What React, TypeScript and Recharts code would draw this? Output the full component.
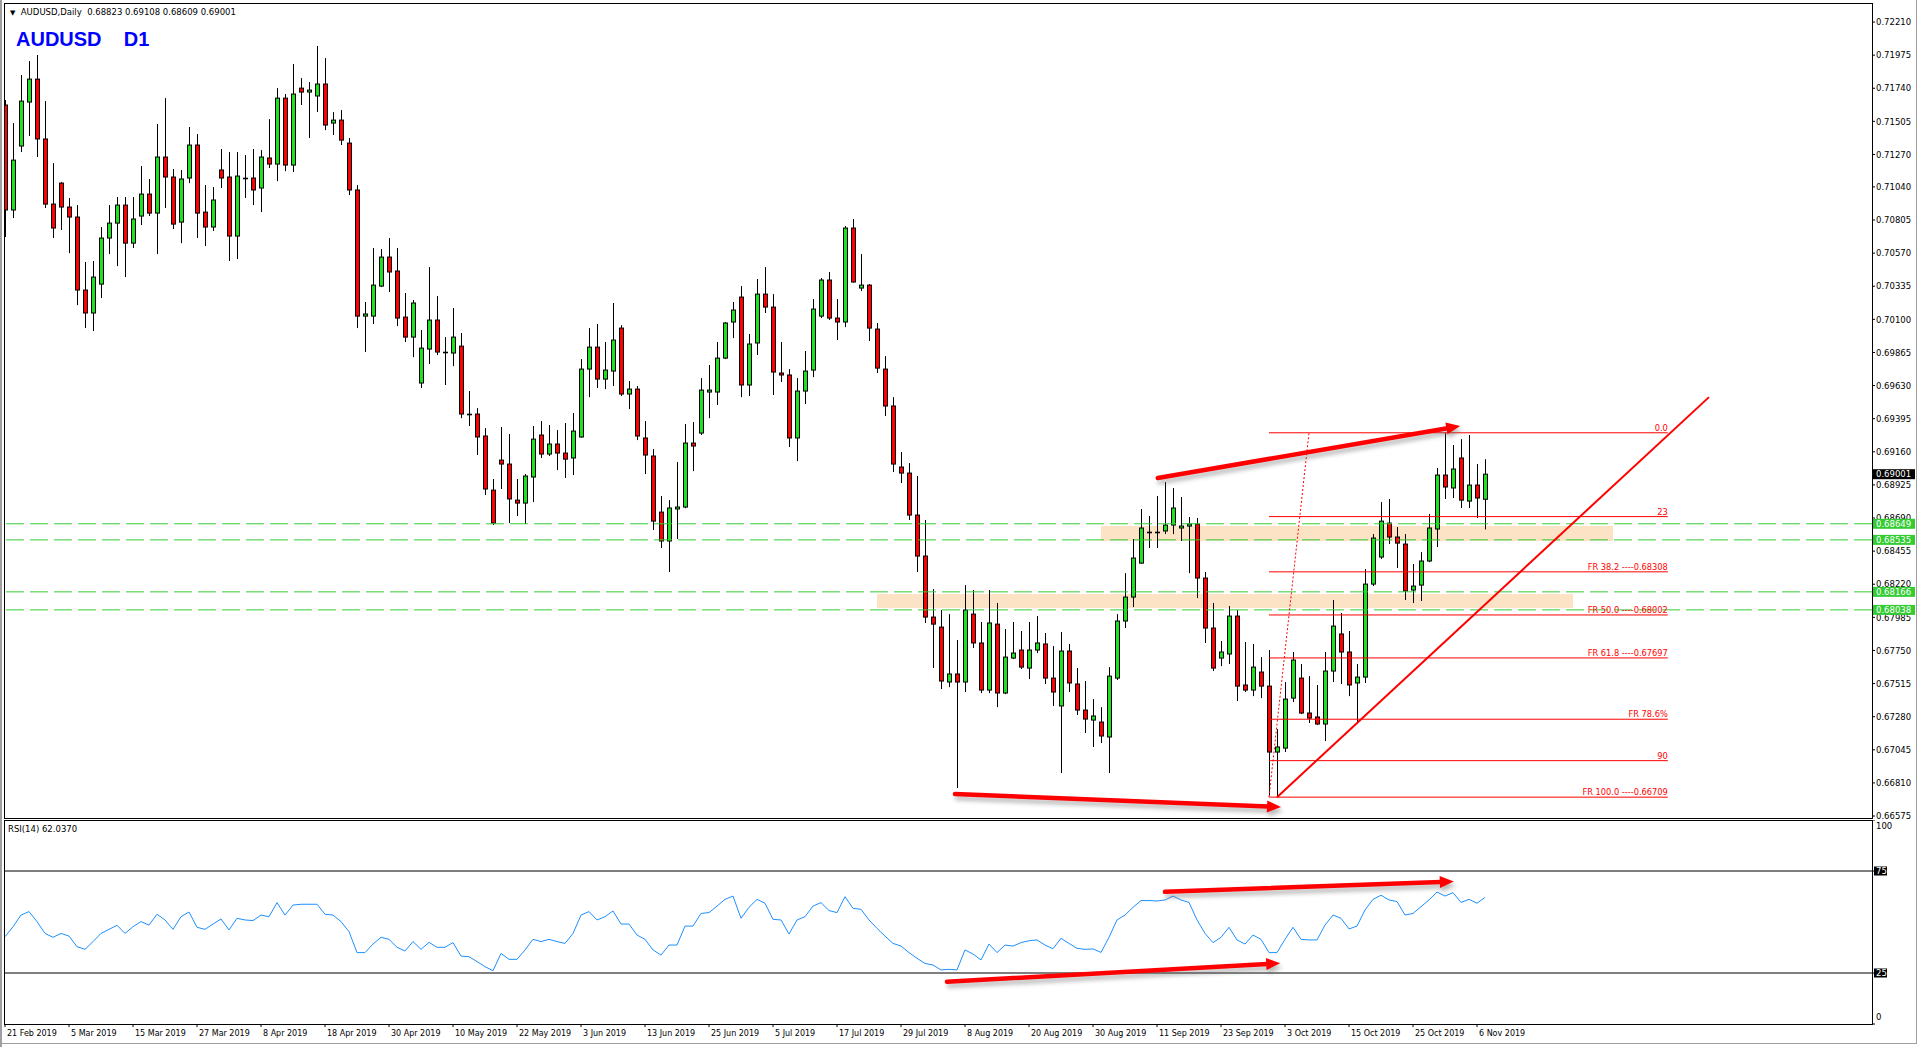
import React from 'react';
import { ComposedChart, Bar, Line, XAxis, YAxis, ReferenceLine, ReferenceArea } from 'recharts';

// ---------- DATA ----------
const OPEN = [
  0.71621, 0.70876, 0.71330, 0.71642, 0.71805, 0.71380, 0.70918, 0.71067, 0.70897, 0.70826,
  0.70308, 0.70145, 0.70350, 0.70677, 0.70783, 0.70911, 0.70641, 0.70833, 0.70989, 0.70854,
  0.71252, 0.71110, 0.70790, 0.71103, 0.71337, 0.70861, 0.70755, 0.71160, 0.71110, 0.70691,
  0.71103, 0.71103, 0.71032, 0.71245, 0.71202, 0.71670, 0.71195, 0.71741, 0.71713, 0.71685,
  0.71770, 0.71493, 0.71514, 0.71351, 0.71018, 0.70123, 0.70123, 0.70336, 0.70542, 0.70443,
  0.70116, 0.69974, 0.69648, 0.69889, 0.70095, 0.69868, 0.69861, 0.69910, 0.69428, 0.69428,
  0.69272, 0.68888, 0.69101, 0.69073, 0.68817, 0.68796, 0.68981, 0.69279, 0.69144, 0.69215,
  0.69151, 0.69116, 0.69265, 0.69747, 0.69903, 0.69676, 0.69733, 0.70038, 0.69570, 0.69605,
  0.69258, 0.69130, 0.68732, 0.68527, 0.68754, 0.68768, 0.69222, 0.69293, 0.69584, 0.69584,
  0.69825, 0.70081, 0.70258, 0.69634, 0.69932, 0.70279, 0.70187, 0.69719, 0.69705, 0.69258,
  0.69591, 0.69740, 0.70123, 0.70379, 0.70109, 0.70081, 0.70748, 0.70322, 0.70343, 0.70031,
  0.69747, 0.69485, 0.69052, 0.69009, 0.68711, 0.68420, 0.67987, 0.67916, 0.67526, 0.67583,
  0.67526, 0.68008, 0.67803, 0.67469, 0.67937, 0.67448, 0.67696, 0.67753, 0.67625, 0.67753,
  0.67796, 0.67554, 0.67356, 0.67746, 0.67512, 0.67327, 0.67256, 0.67242, 0.67136, 0.67554,
  0.67959, 0.68129, 0.68370, 0.68590, 0.68590, 0.68598, 0.68640, 0.68619, 0.68633, 0.68647,
  0.68264, 0.67909, 0.67696, 0.67725, 0.67994, 0.67505, 0.67469, 0.67597, 0.67497, 0.67029,
  0.67057, 0.67412, 0.67554, 0.67306, 0.67278, 0.67228, 0.67604, 0.67867, 0.67739, 0.67519,
  0.67561, 0.68221, 0.68413, 0.68654, 0.68555, 0.68505, 0.68179, 0.68214, 0.68385, 0.68612,
  0.68995, 0.68903, 0.69116, 0.68810, 0.68924, 0.68823,
];
const HIGH = [
  0.71656, 0.71493, 0.71834, 0.71933, 0.71976, 0.71649, 0.71209, 0.71074, 0.70961, 0.70911,
  0.70507, 0.70514, 0.70755, 0.70911, 0.70968, 0.70968, 0.70968, 0.71188, 0.71096, 0.71486,
  0.71670, 0.71167, 0.71160, 0.71465, 0.71415, 0.71053, 0.71039, 0.71309, 0.71287, 0.71287,
  0.71266, 0.71309, 0.71301, 0.71521, 0.71741, 0.71699, 0.71912, 0.71812, 0.71784, 0.72040,
  0.71954, 0.71571, 0.71585, 0.71387, 0.71053, 0.70223, 0.70606, 0.70599, 0.70677, 0.70606,
  0.70287, 0.70237, 0.70024, 0.70471, 0.70265, 0.69974, 0.70180, 0.70003, 0.69591, 0.69470,
  0.69328, 0.68967, 0.69336, 0.69286, 0.68967, 0.69002, 0.69343, 0.69378, 0.69350, 0.69314,
  0.69364, 0.69435, 0.69818, 0.70038, 0.70067, 0.69939, 0.70216, 0.70059, 0.69662, 0.69627,
  0.69378, 0.69179, 0.68846, 0.68817, 0.69087, 0.69357, 0.69371, 0.69683, 0.69776, 0.69939,
  0.70081, 0.70223, 0.70336, 0.69996, 0.70386, 0.70471, 0.70279, 0.69939, 0.69747, 0.69683,
  0.69875, 0.70244, 0.70393, 0.70436, 0.70244, 0.70762, 0.70812, 0.70563, 0.70350, 0.70074,
  0.69839, 0.69548, 0.69158, 0.69080, 0.68988, 0.68676, 0.68186, 0.68037, 0.68008, 0.67824,
  0.68214, 0.68179, 0.67952, 0.68179, 0.68087, 0.67902, 0.67952, 0.67888, 0.67952, 0.67994,
  0.67874, 0.67781, 0.67881, 0.67796, 0.67625, 0.67533, 0.67405, 0.67348, 0.67632, 0.68008,
  0.68299, 0.68541, 0.68754, 0.68704, 0.68846, 0.68945, 0.68903, 0.68839, 0.68697, 0.68690,
  0.68307, 0.68087, 0.67817, 0.68065, 0.68037, 0.67810, 0.67796, 0.67703, 0.67753, 0.67192,
  0.67526, 0.67739, 0.67654, 0.67568, 0.67505, 0.67739, 0.68108, 0.68016, 0.67888, 0.67654,
  0.68328, 0.68576, 0.68803, 0.68825, 0.68626, 0.68576, 0.68363, 0.68448, 0.68718, 0.69045,
  0.69295, 0.69208, 0.69250, 0.69279, 0.69073, 0.69108,
];
const LOW = [
  0.70684, 0.70819, 0.71287, 0.71401, 0.71252, 0.70890, 0.70677, 0.70734, 0.70570, 0.70201,
  0.70038, 0.70017, 0.70251, 0.70563, 0.70478, 0.70400, 0.70606, 0.70769, 0.70833, 0.70563,
  0.70890, 0.70741, 0.70641, 0.71067, 0.70677, 0.70620, 0.70727, 0.71032, 0.70514, 0.70528,
  0.70961, 0.70911, 0.70861, 0.71174, 0.71081, 0.71152, 0.71145, 0.71621, 0.71387, 0.71571,
  0.71443, 0.71408, 0.71337, 0.70982, 0.70038, 0.69868, 0.70067, 0.70329, 0.70294, 0.70052,
  0.69939, 0.69832, 0.69612, 0.69783, 0.69847, 0.69634, 0.69768, 0.69399, 0.69343, 0.69137,
  0.68853, 0.68640, 0.68896, 0.68654, 0.68704, 0.68647, 0.68803, 0.69116, 0.69130, 0.69030,
  0.68974, 0.68995, 0.69260, 0.69548, 0.69612, 0.69605, 0.69627, 0.69556, 0.69463, 0.69243,
  0.69002, 0.68605, 0.68477, 0.68307, 0.68541, 0.68760, 0.69023, 0.69279, 0.69399, 0.69492,
  0.69818, 0.69967, 0.69548, 0.69556, 0.69847, 0.70145, 0.69563, 0.69655, 0.69194, 0.69094,
  0.69499, 0.69690, 0.70109, 0.70095, 0.69953, 0.70045, 0.70360, 0.70301, 0.69946, 0.69719,
  0.69414, 0.69016, 0.68938, 0.68676, 0.68307, 0.67945, 0.67625, 0.67476, 0.67490, 0.66774,
  0.67455, 0.67767, 0.67448, 0.67448, 0.67348, 0.67440, 0.67689, 0.67618, 0.67547, 0.67732,
  0.67512, 0.67356, 0.66880, 0.67455, 0.67292, 0.67164, 0.67065, 0.67093, 0.66880, 0.67540,
  0.67909, 0.68058, 0.68365, 0.68477, 0.68477, 0.68576, 0.68576, 0.68527, 0.68299, 0.68122,
  0.67803, 0.67604, 0.67639, 0.67654, 0.67391, 0.67455, 0.67426, 0.67412, 0.66720, 0.66709,
  0.67029, 0.67384, 0.67299, 0.67235, 0.67222, 0.67107, 0.67526, 0.67512, 0.67426, 0.67235,
  0.67519, 0.68207, 0.68399, 0.68505, 0.68335, 0.68108, 0.68087, 0.68101, 0.68377, 0.68484,
  0.68825, 0.68832, 0.68761, 0.68761, 0.68690, 0.68609,
];
const CLOSE = [
  0.70876, 0.71230, 0.71649, 0.71805, 0.71380, 0.70918, 0.70748, 0.70897, 0.70826, 0.70308,
  0.70145, 0.70400, 0.70677, 0.70783, 0.70911, 0.70641, 0.70812, 0.70989, 0.70854, 0.71252,
  0.71110, 0.70776, 0.71096, 0.71337, 0.70854, 0.70755, 0.70947, 0.71103, 0.70691, 0.71117,
  0.71103, 0.71018, 0.71252, 0.71202, 0.71670, 0.71195, 0.71699, 0.71713, 0.71727, 0.71770,
  0.71479, 0.71514, 0.71372, 0.71018, 0.70123, 0.70138, 0.70343, 0.70542, 0.70436, 0.70109,
  0.69974, 0.70216, 0.69896, 0.70095, 0.69868, 0.69868, 0.69974, 0.69428, 0.69428, 0.69265,
  0.68896, 0.68654, 0.69073, 0.68825, 0.68796, 0.68988, 0.69250, 0.69144, 0.69215, 0.69151,
  0.69108, 0.69307, 0.69747, 0.69903, 0.69676, 0.69740, 0.69953, 0.69570, 0.69605, 0.69272,
  0.69137, 0.68668, 0.68527, 0.68761, 0.68768, 0.69222, 0.69201, 0.69598, 0.69598, 0.69825,
  0.70074, 0.70166, 0.69634, 0.69925, 0.70279, 0.70187, 0.69726, 0.69705, 0.69258, 0.69591,
  0.69733, 0.70173, 0.70379, 0.70109, 0.70081, 0.70748, 0.70365, 0.70343, 0.70038, 0.69754,
  0.69485, 0.69073, 0.69009, 0.68711, 0.68420, 0.67987, 0.67937, 0.67533, 0.67583, 0.67526,
  0.68037, 0.67803, 0.67469, 0.67945, 0.67448, 0.67703, 0.67732, 0.67632, 0.67753, 0.67803,
  0.67554, 0.67455, 0.67746, 0.67519, 0.67327, 0.67263, 0.67285, 0.67143, 0.67568, 0.67959,
  0.68129, 0.68406, 0.68619, 0.68590, 0.68590, 0.68640, 0.68761, 0.68633, 0.68647, 0.68264,
  0.67909, 0.67625, 0.67739, 0.67994, 0.67497, 0.67469, 0.67632, 0.67497, 0.67029, 0.67065,
  0.67405, 0.67682, 0.67306, 0.67270, 0.67228, 0.67604, 0.67923, 0.67739, 0.67505, 0.67561,
  0.68221, 0.68548, 0.68668, 0.68555, 0.68512, 0.68172, 0.68207, 0.68385, 0.68619, 0.68995,
  0.68910, 0.69038, 0.68817, 0.68924, 0.68832, 0.69001,
];
const RSI = [
  42.8, 47.7, 53.4, 55.1, 50.2, 44.4, 42.5, 44.4, 43.1, 37.9,
  36.6, 40.4, 44.4, 46.4, 48.4, 44.4, 47.7, 50.2, 48.5, 53.8,
  51.0, 46.4, 52.6, 54.9, 47.4, 46.4, 49.0, 51.5, 46.1, 51.8,
  51.0, 50.7, 53.4, 52.6, 59.5, 53.4, 58.3, 58.7, 58.7, 58.7,
  53.8, 53.4, 50.2, 45.3, 35.0, 35.0, 39.2, 42.5, 41.5, 37.6,
  35.8, 40.4, 36.6, 40.0, 37.6, 37.6, 39.9, 33.3, 33.0, 30.6,
  28.1, 26.1, 34.6, 31.7, 31.7, 36.3, 41.5, 40.4, 41.5, 40.4,
  39.5, 44.4, 53.4, 55.1, 51.0, 52.6, 55.4, 49.0, 49.0, 43.6,
  41.5, 36.3, 33.8, 38.7, 38.7, 48.0, 48.0, 54.2, 54.6, 57.8,
  61.1, 62.7, 51.8, 57.2, 61.1, 59.2, 51.3, 51.0, 44.1, 51.0,
  52.6, 57.8, 59.5, 55.6, 54.6, 62.4, 56.7, 56.2, 51.0, 46.9,
  43.1, 39.5, 38.2, 35.0, 32.2, 29.7, 28.9, 26.5, 26.8, 26.5,
  36.3, 34.3, 31.4, 39.2, 35.0, 38.7, 38.2, 39.9, 40.8, 41.2,
  38.7, 36.9, 42.0, 39.5, 37.1, 36.6, 36.8, 35.1, 42.5, 51.0,
  53.4, 57.2, 60.5, 60.5, 60.3, 60.8, 62.7, 60.8, 59.6, 51.0,
  44.4, 39.9, 42.5, 47.4, 41.2, 39.2, 43.6, 41.5, 35.0, 35.0,
  41.5, 47.4, 41.5, 41.2, 41.2, 48.5, 53.4, 51.8, 46.6, 48.0,
  55.9, 61.1, 63.1, 60.8, 60.0, 53.4, 54.2, 57.5, 60.8, 64.7,
  62.7, 64.4, 59.6, 61.1, 59.2, 62.04,
];

const X_TICKS = [0, 8, 16, 24, 32, 40, 48, 56, 64, 72, 80, 88, 96, 104, 112, 120, 128, 136, 144, 152, 160, 168, 176, 184];
const X_TICK_LABELS = [
  '21 Feb 2019', '5 Mar 2019', '15 Mar 2019', '27 Mar 2019', '8 Apr 2019', '18 Apr 2019',
  '30 Apr 2019', '10 May 2019', '22 May 2019', '3 Jun 2019', '13 Jun 2019', '25 Jun 2019',
  '5 Jul 2019', '17 Jul 2019', '29 Jul 2019', '8 Aug 2019', '20 Aug 2019', '30 Aug 2019',
  '11 Sep 2019', '23 Sep 2019', '3 Oct 2019', '15 Oct 2019', '25 Oct 2019', '6 Nov 2019',
];
const PRICE_TICKS = [
  0.72210, 0.71975, 0.71740, 0.71505, 0.71270, 0.71040, 0.70805, 0.70570, 0.70335, 0.70100,
  0.69865, 0.69630, 0.69395, 0.69160, 0.68925, 0.68690, 0.68455, 0.68220, 0.67985, 0.67750,
  0.67515, 0.67280, 0.67045, 0.66810, 0.66575,
];
const SUPPORT_LEVELS = [0.68649, 0.68535, 0.68166, 0.68038];
const BID = 0.69001;
const RSI_TICKS = [100, 75, 25, 0];
const RSI_LEVELS = [75, 25];

const ZONES = [
  { x1: 137, x2: 201, y1: 0.68527, y2: 0.68633 },
  { x1: 109, x2: 196, y1: 0.68051, y2: 0.68150 },
];
const FIB_START = 158;
const FIB_END = 207.85;
const FIB_LEVELS = [
  { label: '0.0', value: 0.69295 },
  { label: '23', value: 0.68700 },
  { label: 'FR 38.2 ----0.68308', value: 0.68308 },
  { label: 'FR 50.0 ----0.68002', value: 0.68002 },
  { label: 'FR 61.8 ----0.67697', value: 0.67697 },
  { label: 'FR 78.6%', value: 0.67262 },
  { label: '90', value: 0.66968 },
  { label: 'FR 100.0 ----0.66709', value: 0.66709 },
];
const FIB_ANCHOR = [{ x: 158, y: 0.66709 }, { x: 163, y: 0.69295 }];
const TRENDLINE = [{ x: 159, y: 0.66709 }, { x: 213, y: 0.69548 }];
const PRICE_ARROWS = [
  [{ x: 144.1, y: 0.68974 }, { x: 181.9, y: 0.69343 }],
  [{ x: 118.75, y: 0.66731 }, { x: 159.5, y: 0.66639 }],
];
const RSI_ARROWS = [
  [{ x: 145, y: 64.8 }, { x: 181.1, y: 69.8 }],
  [{ x: 117.75, y: 20.7 }, { x: 159.4, y: 29.75 }],
];

const X_DOMAIN = [0, 233.375];
const PRICE_DOMAIN = [0.66561, 0.72338];

const DATA = OPEN.map((o, i) => ({
  i,
  o,
  h: HIGH[i],
  l: LOW[i],
  c: CLOSE[i],
  range: [LOW[i], HIGH[i]],
  rsi: RSI[i],
}));

const GREEN = '#1ee01e';
const RED = '#ff0000';
const LEVEL_GREEN = '#33cc33';
const FONT = '"DejaVu Sans", Verdana, sans-serif';

// ---------- shapes ----------
function Candle(props: any) {
  const { x, y, width, height, index } = props;
  const d = props.payload && props.payload.o !== undefined ? props.payload : DATA[index];
  if (!d || y == null || height == null || x == null) return null;
  const yTop = Math.min(y, y + height);
  const hgt = Math.abs(height);
  const span = d.h - d.l;
  const ratio = span > 0 ? hgt / span : 0;
  const py = (v: number) => yTop + (d.h - v) * ratio;
  const cx = Math.round(x + width / 2 + 0.25);
  const top = py(Math.max(d.o, d.c));
  const bot = py(Math.min(d.o, d.c));
  const wx = cx + 0.5;
  return (
    <g>
      <line x1={wx} x2={wx} y1={yTop} y2={yTop + hgt} stroke="#000" strokeWidth={1} />
      {d.o === d.c ? (
        <line x1={cx - 2} x2={cx + 3} y1={Math.round(top) + 0.5} y2={Math.round(top) + 0.5} stroke="#000" strokeWidth={1.6} />
      ) : (
        <rect x={cx - 1.5} y={top} width={4} height={Math.max(bot - top, 1)} fill={d.c > d.o ? GREEN : RED} stroke="#000" strokeWidth={1} />
      )}
    </g>
  );
}

let arrowId = 0;
function makeArrow() {
  const id = `ashadow${arrowId++}`;
  return (p: any) => {
    const { x1, y1, x2, y2 } = p;
    if ([x1, y1, x2, y2].some((v) => v == null || isNaN(v))) return null;
    const ang = Math.atan2(y2 - y1, x2 - x1);
    const cos = Math.cos(ang);
    const sin = Math.sin(ang);
    const len = 14;
    const hw = 6;
    const bx = x2 - len * cos;
    const by = y2 - len * sin;
    const head = `${x2},${y2} ${bx - hw * sin},${by + hw * cos} ${bx + hw * sin},${by - hw * cos}`;
    const body = (fill: string) => (
      <g>
        <line x1={x1} y1={y1} x2={bx + cos} y2={by + sin} stroke={fill} strokeWidth={4.5} strokeLinecap="round" />
        <polygon points={head} fill={fill} />
      </g>
    );
    return (
      <g>
        <defs>
          <filter id={id} x="-20%" y="-200%" width="140%" height="500%">
            <feGaussianBlur stdDeviation="2" />
          </filter>
        </defs>
        <g transform="translate(2,4)" filter={`url(#${id})`} opacity={0.45}>
          {body('#666')}
        </g>
        {body('#ff0000')}
      </g>
    );
  };
}

const fibLabel = (text: string) => (props: any) => {
  const vb = props.viewBox || {};
  const xr = (vb.x ?? 0) + (vb.width ?? 0);
  return (
    <text x={xr} y={(vb.y ?? 0) - 2} textAnchor="end" fontSize={8.25} fill="#ff0000" fontFamily={FONT}>
      {text}
    </text>
  );
};

function PriceTick(props: any) {
  const { x, y, payload } = props;
  const v = payload.value;
  const txt = Number(v).toFixed(5);
  if (SUPPORT_LEVELS.includes(v) || v === BID) {
    const bg = v === BID ? '#000' : LEVEL_GREEN;
    return (
      <g>
        <rect x={x - 3} y={y - 5} width={42} height={10} fill={bg} />
        <text x={x} y={y + 3.2} fontSize={8.5} fill="#fff" fontFamily={FONT}>{txt}</text>
      </g>
    );
  }
  return (
    <text x={x} y={y + 3.2} fontSize={8.5} fill="#000" fontFamily={FONT}>{txt}</text>
  );
}

function RsiTick(props: any) {
  const { x, y, payload } = props;
  const v = payload.value;
  if (RSI_LEVELS.includes(v)) {
    return (
      <g>
        <rect x={x - 2} y={y - 4.5} width={13} height={9} fill="#000" />
        <text x={x} y={y + 3.2} fontSize={8.5} fill="#fff" fontFamily={FONT}>{v}</text>
      </g>
    );
  }
  const dy = v === 100 ? 6 : v === 0 ? -7 : 0;
  return <text x={x} y={y + dy + 3.2} fontSize={8.5} fill="#000" fontFamily={FONT}>{v}</text>;
}

function DateTick(props: any) {
  const { x, y, payload } = props;
  const idx = X_TICKS.indexOf(payload.value);
  return (
    <text x={x + 2} y={y + 7} fontSize={8} fill="#000" fontFamily={FONT} textAnchor="start">
      {idx >= 0 ? X_TICK_LABELS[idx] : ''}
    </text>
  );
}

const priceArrowShapes = PRICE_ARROWS.map(() => makeArrow());
const rsiArrowShapes = RSI_ARROWS.map(() => makeArrow());

export default function App() {
  return (
    <div style={{ position: 'absolute', left: 0, top: 0, width: 1920, height: 1047, background: '#fff', fontFamily: FONT, overflow: 'hidden' }}>
      {/* main price panel */}
      <div style={{ position: 'absolute', left: 0, top: 0 }}>
        <ComposedChart width={1920} height={820} data={DATA} margin={{ top: 4, right: 0, bottom: 2, left: 5 }}>
          <XAxis dataKey="i" type="number" domain={X_DOMAIN} hide allowDataOverflow />
          <YAxis
            orientation="right"
            type="number"
            width={48}
            domain={PRICE_DOMAIN}
            allowDataOverflow
            ticks={[...PRICE_TICKS, ...SUPPORT_LEVELS, BID]}
            interval={0}
            tick={PriceTick}
            tickSize={3}
            tickMargin={1}
            tickLine={{ stroke: '#000' }}
            axisLine={false}
          />
          {ZONES.map((z, k) => (
            <ReferenceArea key={`z${k}`} x1={z.x1} x2={z.x2} y1={z.y1} y2={z.y2} fill="#fde3c5" fillOpacity={1} stroke="none" ifOverflow="visible" />
          ))}
          {SUPPORT_LEVELS.map((v) => (
            <ReferenceLine key={`s${v}`} y={v} stroke={LEVEL_GREEN} strokeWidth={1} strokeDasharray="18 6" />
          ))}
          <Bar dataKey="range" shape={Candle} barSize={5} isAnimationActive={false} />
          {FIB_LEVELS.map((f) => (
            <ReferenceLine
              key={`f${f.label}`}
              segment={[{ x: FIB_START, y: f.value }, { x: FIB_END, y: f.value }]}
              stroke="#ff0000"
              strokeWidth={1}
              ifOverflow="visible"
              label={fibLabel(f.label)}
            />
          ))}
          <ReferenceLine segment={FIB_ANCHOR} stroke="#ff0000" strokeWidth={1} strokeDasharray="2 2" ifOverflow="visible" />
          <ReferenceLine segment={TRENDLINE} stroke="#ff0000" strokeWidth={2} ifOverflow="visible" />
          {PRICE_ARROWS.map((a, k) => (
            <ReferenceLine key={`pa${k}`} segment={a} ifOverflow="visible" shape={priceArrowShapes[k]} />
          ))}
        </ComposedChart>
      </div>

      {/* RSI panel */}
      <div style={{ position: 'absolute', left: 0, top: 820 }}>
        <ComposedChart width={1920} height={227} data={DATA} margin={{ top: 0, right: 0, bottom: 0, left: 5 }}>
          <XAxis
            dataKey="i"
            type="number"
            domain={X_DOMAIN}
            allowDataOverflow
            ticks={X_TICKS}
            interval={0}
            height={23}
            tick={DateTick}
            tickSize={3}
            tickMargin={2}
            tickLine={{ stroke: '#000' }}
            axisLine={false}
          />
          <YAxis
            orientation="right"
            type="number"
            width={48}
            domain={[0, 100]}
            allowDataOverflow
            ticks={RSI_TICKS}
            interval={0}
            tick={RsiTick}
            tickSize={3}
            tickMargin={1}
            tickLine={{ stroke: '#000' }}
            axisLine={false}
          />
          {RSI_LEVELS.map((v) => (
            <ReferenceLine key={`r${v}`} y={v} stroke="#000" strokeWidth={1} />
          ))}
          <Line dataKey="rsi" type="linear" stroke="#1e90ff" strokeWidth={1} dot={false} isAnimationActive={false} />
          {RSI_ARROWS.map((a, k) => (
            <ReferenceLine key={`ra${k}`} segment={a} ifOverflow="visible" shape={rsiArrowShapes[k]} />
          ))}
        </ComposedChart>
      </div>

      {/* panel frames */}
      <div style={{ position: 'absolute', left: 4, top: 3, width: 1869, height: 816, border: '1px solid #000', boxSizing: 'border-box', pointerEvents: 'none' }} />
      <div style={{ position: 'absolute', left: 4, top: 820, width: 1869, height: 205, border: '1px solid #000', boxSizing: 'border-box', pointerEvents: 'none' }} />
      <div style={{ position: 'absolute', left: 0, top: 0, width: 2, height: 1047, background: '#a0a0a0' }} />
      <div style={{ position: 'absolute', left: 1916, top: 0, width: 1, height: 1044, background: '#a0a0a0' }} />
      <div style={{ position: 'absolute', left: 0, top: 1043, width: 1917, height: 1, background: '#a0a0a0' }} />

      {/* header texts */}
      <div style={{ position: 'absolute', left: 10, top: 6, fontSize: 8.5, color: '#000', whiteSpace: 'pre', lineHeight: '12px' }}>
        <span style={{ fontSize: 7 }}>▼</span>{'  AUDUSD,Daily  0.68823 0.69108 0.68609 0.69001'}
      </div>
      <div style={{ position: 'absolute', left: 16, top: 27, fontSize: 20, fontWeight: 'bold', color: '#0000ff', whiteSpace: 'pre', fontFamily: '"Liberation Sans", Arial, sans-serif', lineHeight: '24px' }}>
        {'AUDUSD    D1'}
      </div>
      <div style={{ position: 'absolute', left: 8, top: 823, fontSize: 8.5, color: '#000', whiteSpace: 'pre', lineHeight: '12px' }}>
        {'RSI(14) 62.0370'}
      </div>
    </div>
  );
}
